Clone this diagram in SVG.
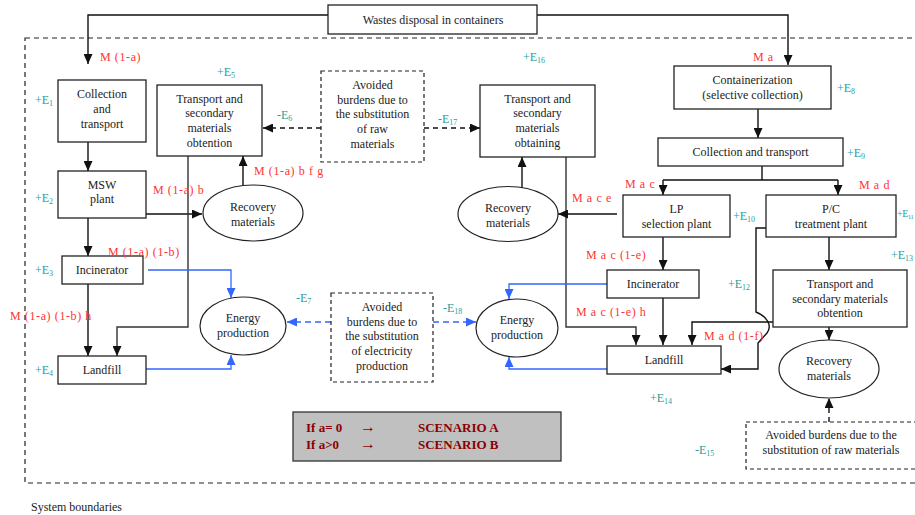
<svg xmlns="http://www.w3.org/2000/svg" width="915" height="515" viewBox="0 0 915 515">
<style>
.box{fill:#fff;stroke:#222;stroke-width:1.3}
.dbox{fill:#fff;stroke:#222;stroke-width:1.2;stroke-dasharray:4,3}
.ell{fill:#fff;stroke:#222;stroke-width:1.2}
.t{font-family:"Liberation Serif","Times New Roman",serif;font-size:12px;fill:#222;text-anchor:middle}
.r{font-family:"Liberation Serif","Times New Roman",serif;font-size:12px;fill:#ff3333;letter-spacing:0.6px}
.e{font-family:"Liberation Serif","Times New Roman",serif;font-size:12px;fill:#2e9c9c}
.s{font-size:8px}
.ln{fill:none;stroke:#111;stroke-width:1.4}
.gl{fill:none;stroke:#333;stroke-width:1.4}
.bl{fill:none;stroke:#3366ff;stroke-width:1.3}
.dl{fill:none;stroke:#111;stroke-width:1.4;stroke-dasharray:5,4}
.dbl{fill:none;stroke:#3366ff;stroke-width:1.6;stroke-dasharray:6,4}
.sc{font-family:"Liberation Serif","Times New Roman",serif;font-size:13px;font-weight:bold;fill:#8b0000}
</style>
<defs>
<marker id="ab" markerUnits="userSpaceOnUse" markerWidth="10" markerHeight="9" refX="10" refY="4.5" orient="auto"><path d="M0,0 L10,4.5 L0,9 z" fill="#111"/></marker>
<marker id="abl" markerUnits="userSpaceOnUse" markerWidth="10" markerHeight="9" refX="10" refY="4.5" orient="auto"><path d="M0,0 L10,4.5 L0,9 z" fill="#3366ff"/></marker>
</defs>
<rect width="915" height="515" fill="#fff"/>
<rect id="boundary" x="25" y="38" width="920" height="445" fill="none" stroke="#222" stroke-width="1.2" stroke-dasharray="5,4"/>
<text class="t" x="31" y="511" style="text-anchor:start">System boundaries</text>

<g id="connectors">
<path class="ln" d="M328,15 H88 V64" marker-end="url(#ab)"/>
<path class="ln" d="M537,15 H788 V65" marker-end="url(#ab)"/>
<path class="ln" d="M88,142 V171" marker-end="url(#ab)"/>
<path class="ln" d="M88,218 V256" marker-end="url(#ab)"/>
<path class="ln" d="M88,284 V356" marker-end="url(#ab)"/>
<path class="ln" d="M146,214 H202" marker-end="url(#ab)"/>
<path class="ln" d="M243,185 V156" marker-end="url(#ab)"/>
<path class="gl" d="M188,156 V327 H117 V356" marker-end="url(#ab)"/>
<path class="dl" d="M321,128 H263" marker-end="url(#ab)"/>
<path class="dl" d="M424,128 H480" marker-end="url(#ab)"/>
<path class="ln" d="M522,188 V157" marker-end="url(#ab)"/>
<path class="gl" d="M566,157 V327 H636 V345" marker-end="url(#ab)"/>
<path class="ln" d="M617,214 H558" marker-end="url(#ab)"/>
<path class="ln" d="M758,109 V138" marker-end="url(#ab)"/>
<path class="ln" d="M762,166 V180 M663,180 H838"/>
<path class="ln" d="M663,180 V195" marker-end="url(#ab)"/>
<path class="ln" d="M838,180 V195" marker-end="url(#ab)"/>
<path class="ln" d="M663,237 V270" marker-end="url(#ab)"/>
<path class="ln" d="M663,298 V345" marker-end="url(#ab)"/>
<path class="ln" d="M829,237 V270" marker-end="url(#ab)"/>
<path class="ln" d="M773,322 H692 V345" marker-end="url(#ab)"/>
<path class="ln" d="M766,228 H756 V312 C766,316 773,325 767,333 L758,343 V369 H721" marker-end="url(#ab)"/>
<path class="ln" d="M829,327 V340" marker-end="url(#ab)"/>
<path class="dl" d="M829,422 V398" marker-end="url(#ab)"/>
<path class="bl" d="M148,270 H231 V298" marker-end="url(#abl)"/>
<path class="bl" d="M146,369 H231 V355" marker-end="url(#abl)"/>
<path class="dbl" d="M331,322 H287" marker-end="url(#abl)"/>
<path class="dbl" d="M433,322 H476" marker-end="url(#abl)"/>
<path class="bl" d="M607,284 H509 V299" marker-end="url(#abl)"/>
<path class="bl" d="M607,369 H509 V357" marker-end="url(#abl)"/>
</g>

<g id="wastes"><rect class="box" x="328" y="5" width="209" height="29"/><text class="t" x="433" y="24">Wastes disposal in containers</text></g>
<g id="collection1"><rect class="box" x="58" y="80" width="88" height="62"/><text class="t" x="102" y="98">Collection</text><text class="t" x="102" y="113">and</text><text class="t" x="102" y="128">transport</text></g>
<g id="msw"><rect class="box" x="58" y="171" width="88" height="47"/><text class="t" x="102" y="189">MSW</text><text class="t" x="102" y="203">plant</text></g>
<g id="incinerator1"><rect class="box" x="62" y="256" width="81" height="28"/><text class="t" x="102" y="274">Incinerator</text></g>
<g id="landfill1"><rect class="box" x="58" y="356" width="88" height="28"/><text class="t" x="102" y="374">Landfill</text></g>
<g id="transport1"><rect class="box" x="157" y="85" width="105" height="71"/><text class="t" x="209.5" y="103">Transport and</text><text class="t" x="209.5" y="117">secondary</text><text class="t" x="209.5" y="132">materials</text><text class="t" x="209.5" y="147">obtention</text></g>
<g id="recovery1"><ellipse class="ell" cx="253" cy="213" rx="50" ry="28"/><text class="t" x="253" y="211">Recovery</text><text class="t" x="253" y="226">materials</text></g>
<g id="energy1"><ellipse class="ell" cx="243" cy="326" rx="43" ry="29"/><text class="t" x="243" y="322">Energy</text><text class="t" x="243" y="337">production</text></g>
<g id="avoided1"><rect class="dbox" x="321" y="71" width="103" height="91"/><text class="t" x="372.5" y="89">Avoided</text><text class="t" x="372.5" y="104">burdens due to</text><text class="t" x="372.5" y="118">the substitution</text><text class="t" x="372.5" y="133">of raw</text><text class="t" x="372.5" y="148">materials</text></g>
<g id="avoided2"><rect class="dbox" x="331" y="293" width="102" height="89"/><text class="t" x="382" y="311">Avoided</text><text class="t" x="382" y="326">burdens due to</text><text class="t" x="382" y="340">the substitution</text><text class="t" x="382" y="355">of electricity</text><text class="t" x="382" y="370">production</text></g>
<g id="transport2"><rect class="box" x="480" y="85" width="115" height="72"/><text class="t" x="537.5" y="103">Transport and</text><text class="t" x="537.5" y="117">secondary</text><text class="t" x="537.5" y="132">materials</text><text class="t" x="537.5" y="147">obtaining</text></g>
<g id="recovery2"><ellipse class="ell" cx="508" cy="214" rx="50" ry="27.5"/><text class="t" x="508" y="212">Recovery</text><text class="t" x="508" y="227">materials</text></g>
<g id="energy2"><ellipse class="ell" cx="517" cy="328" rx="41" ry="29"/><text class="t" x="517" y="324">Energy</text><text class="t" x="517" y="339">production</text></g>
<g id="containerization"><rect class="box" x="674" y="66" width="157" height="43"/><text class="t" x="752.5" y="84">Containerization</text><text class="t" x="752.5" y="99">(selective collection)</text></g>
<g id="collection2"><rect class="box" x="658" y="138" width="185" height="28"/><text class="t" x="750.5" y="156">Collection and transport</text></g>
<g id="lp"><rect class="box" x="623" y="195" width="107" height="42"/><text class="t" x="676.5" y="213">LP</text><text class="t" x="676.5" y="228">selection plant</text></g>
<g id="pc"><rect class="box" x="766" y="195" width="130" height="42"/><text class="t" x="831" y="213">P/C</text><text class="t" x="831" y="228">treatment plant</text></g>
<g id="incinerator2"><rect class="box" x="607" y="270" width="92" height="28"/><text class="t" x="653" y="288">Incinerator</text></g>
<g id="transport3"><rect class="box" x="773" y="270" width="134" height="57"/><text class="t" x="840" y="288">Transport and</text><text class="t" x="840" y="303">secondary materials</text><text class="t" x="840" y="317">obtention</text></g>
<g id="landfill2"><rect class="box" x="607" y="346" width="114" height="28"/><text class="t" x="664" y="364">Landfill</text></g>
<g id="recovery3"><ellipse class="ell" cx="829" cy="369" rx="50" ry="29"/><text class="t" x="829" y="365">Recovery</text><text class="t" x="829" y="380">materials</text></g>
<g id="avoided3"><rect class="dbox" x="746" y="422" width="180" height="47"/><text class="t" x="831" y="439">Avoided burdens due to the</text><text class="t" x="831" y="454">substitution of raw materials</text></g>
<g id="scenario"><rect x="293" y="412" width="268" height="49" fill="#c0c0c0" stroke="#333" stroke-width="1.3"/><text class="sc" x="306" y="432">If a= 0</text><text class="sc" x="360" y="432" style="font-size:16px;font-weight:normal">→</text><text class="sc" x="418" y="432">SCENARIO A</text><text class="sc" x="306" y="449">If a&gt;0</text><text class="sc" x="360" y="449" style="font-size:16px;font-weight:normal">→</text><text class="sc" x="418" y="449">SCENARIO B</text></g>

<g id="flow-labels">
<text class="r" x="100" y="61">M (1-a)</text>
<text class="r" x="254" y="175">M (1-a) b f g</text>
<text class="r" x="153" y="194">M (1-a) b</text>
<text class="r" x="108" y="256">M (1-a) (1-b)</text>
<text class="r" x="10" y="320">M (1-a) (1-b) h</text>
<text class="r" x="753" y="61">M a</text>
<text class="r" x="572" y="202">M a c e</text>
<text class="r" x="625" y="188">M a c</text>
<text class="r" x="859" y="189">M a d</text>
<text class="r" x="586" y="259">M a c (1-e)</text>
<text class="r" x="576" y="316">M a c (1-e) h</text>
<text class="r" x="704" y="340">M a d (1-f)</text>
</g>
<g id="energy-labels">
<text class="e" x="35" y="104">+E<tspan class="s" dy="2">1</tspan></text>
<text class="e" x="35" y="202">+E<tspan class="s" dy="2">2</tspan></text>
<text class="e" x="35" y="274">+E<tspan class="s" dy="2">3</tspan></text>
<text class="e" x="35" y="374">+E<tspan class="s" dy="2">4</tspan></text>
<text class="e" x="217" y="76">+E<tspan class="s" dy="2">5</tspan></text>
<text class="e" x="277" y="119">-E<tspan class="s" dy="2">6</tspan></text>
<text class="e" x="296" y="302">-E<tspan class="s" dy="2">7</tspan></text>
<text class="e" x="837" y="92">+E<tspan class="s" dy="2">8</tspan></text>
<text class="e" x="847" y="157">+E<tspan class="s" dy="2">9</tspan></text>
<text class="e" x="733" y="220">+E<tspan class="s" dy="2">10</tspan></text>
<text class="e" x="897" y="217" style="font-size:10px;letter-spacing:-0.4px">+E<tspan style="font-size:6.5px" dy="2">11</tspan></text>
<text class="e" x="891" y="259">+E<tspan class="s" dy="2">13</tspan></text>
<text class="e" x="728" y="288">+E<tspan class="s" dy="2">12</tspan></text>
<text class="e" x="650" y="402">+E<tspan class="s" dy="2">14</tspan></text>
<text class="e" x="695" y="454">-E<tspan class="s" dy="2">15</tspan></text>
<text class="e" x="523" y="61">+E<tspan class="s" dy="2">16</tspan></text>
<text class="e" x="438" y="123">-E<tspan class="s" dy="2">17</tspan></text>
<text class="e" x="443" y="312">-E<tspan class="s" dy="2">18</tspan></text>
</g>
</svg>
